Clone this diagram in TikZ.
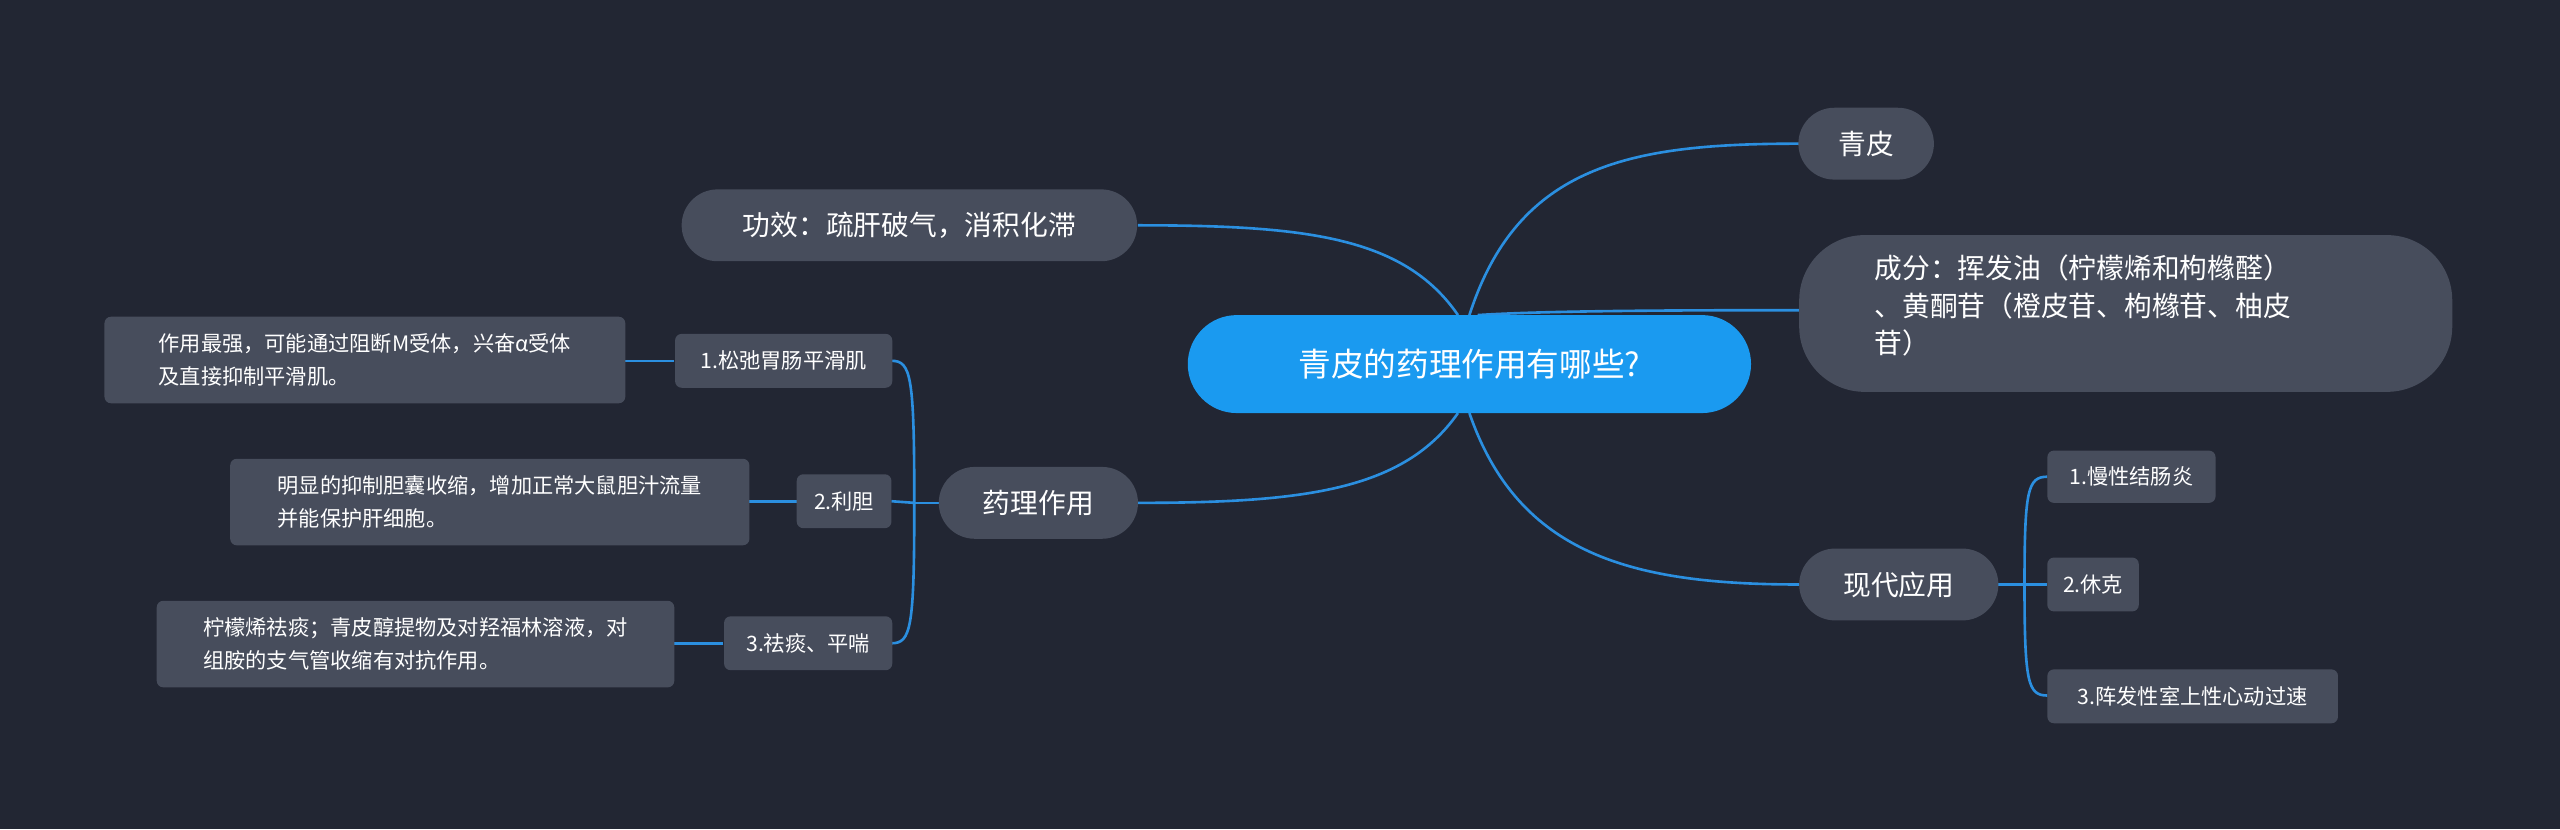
\documentclass[tikz,border=0pt]{standalone}
\usepackage{fontspec}
\setmainfont{Noto Sans CJK SC}
\begin{document}
\begin{tikzpicture}[x=1bp,y=-1bp,
  every node/.style={text=white,inner sep=0pt},
  gray/.style={fill=nodegray,rounded corners=22bp,minimum height=44bp,font=\fontsize{17bp}{22bp}\selectfont,inner xsep=22bp},
  small/.style={fill=nodegray,rounded corners=4bp,minimum height=33bp,font=\fontsize{13bp}{17bp}\selectfont,inner xsep=7bp},
  leaf/.style={fill=nodegray,rounded corners=4bp,font=\fontsize{13bp}{20bp}\selectfont,inner xsep=9bp,inner ysep=7bp,align=left},
  ln/.style={draw=linkblue,line width=1.6bp}]
\definecolor{bg}{HTML}{222633}
\definecolor{nodegray}{HTML}{474D5C}
\definecolor{linkblue}{HTML}{2B8FE0}
\definecolor{cblue}{HTML}{1A9AF0}
\fill[bg] (0,0) rectangle (1568,508);
\useasboundingbox (0,0) rectangle (1568,508);
% connectors first
\coordinate (ct) at (900,193);
\coordinate (cb) at (900,253);
\draw[ln] (ct) .. controls (930,100) and (1000,88) .. (1102,88);
\draw[ln] (905,193) .. controls (950,190) and (1050,190) .. (1102,190);
\draw[ln] (cb) .. controls (930,340) and (1000,358) .. (1102,358);
\draw[ln] (893,193) .. controls (860,145) and (800,138) .. (697,138);
\draw[ln] (893,253) .. controls (860,300) and (800,308) .. (697,308);
% left brace
\draw[ln] (575,308) -- (560,308);
\draw[ln] (560,308) .. controls (560,230) and (558,221) .. (546,221);
\draw[ln] (560,308) -- (546,307);
\draw[ln] (560,308) .. controls (560,385) and (558,394) .. (546,394);
\draw[ln] (413,221) -- (383,221);
\draw[ln] (488,307) -- (459,307);
\draw[ln] (443,394) -- (413,394);
% right brace
\draw[ln] (1224,358) -- (1240,358);
\draw[ln] (1240,358) .. controls (1240,300) and (1242,292) .. (1254,292);
\draw[ln] (1240,358) -- (1254,358);
\draw[ln] (1240,358) .. controls (1240,418) and (1242,426) .. (1254,426);
% nodes
\node[fill=cblue,rounded corners=30bp,minimum width=345bp,minimum height=60bp,font=\fontsize{20bp}{24bp}\selectfont] (c) at (900,223) {青皮的药理作用有哪些?};
\node[gray,minimum width=83bp] (qp) at (1143,88) {青皮};
\node[fill=nodegray,rounded corners=40bp,minimum width=400bp,minimum height=96bp] (cf) at (1302,192) {};
\node[anchor=north west,align=left,font=\fontsize{17bp}{23bp}\selectfont] (cft) at (1148,156) {成分：挥发油（柠檬烯和枸橼醛）\\、黄酮苷（橙皮苷、枸橼苷、柚皮\\苷）};
\node[gray,minimum width=122bp] (xd) at (1163,358) {现代应用};
\node[gray,minimum width=279bp] (gx) at (557,138) {功效：疏肝破气，消积化滞};
\node[gray,minimum width=122bp] (yl) at (636,308) {药理作用};
\node[small,minimum width=133bp] (s1) at (480,221) {1.松弛胃肠平滑肌};
\node[small,minimum width=58bp] (s2) at (517,307) {2.利胆};
\node[small,minimum width=103bp] (s3) at (495,394) {3.祛痰、平喘};
\node[leaf,minimum width=319bp,minimum height=53bp] (l1) at (223.5,220.5) {作用最强，可能通过阻断M受体，兴奋α受体\\及直接抑制平滑肌。};
\node[leaf,minimum width=318bp,minimum height=53bp] (l2) at (300,307.5) {明显的抑制胆囊收缩，增加正常大鼠胆汁流量\\并能保护肝细胞。};
\node[leaf,minimum width=317bp,minimum height=53bp] (l3) at (254.5,394.5) {柠檬烯祛痰；青皮醇提物及对羟福林溶液，对\\组胺的支气管收缩有对抗作用。};
\node[small,minimum width=103bp,minimum height=32bp] (r1) at (1305.5,292) {1.慢性结肠炎};
\node[small,minimum width=56bp] (r2) at (1282,358) {2.休克};
\node[small,minimum width=178bp] (r3) at (1343,426.5) {3.阵发性室上性心动过速};
\end{tikzpicture}
\end{document}
